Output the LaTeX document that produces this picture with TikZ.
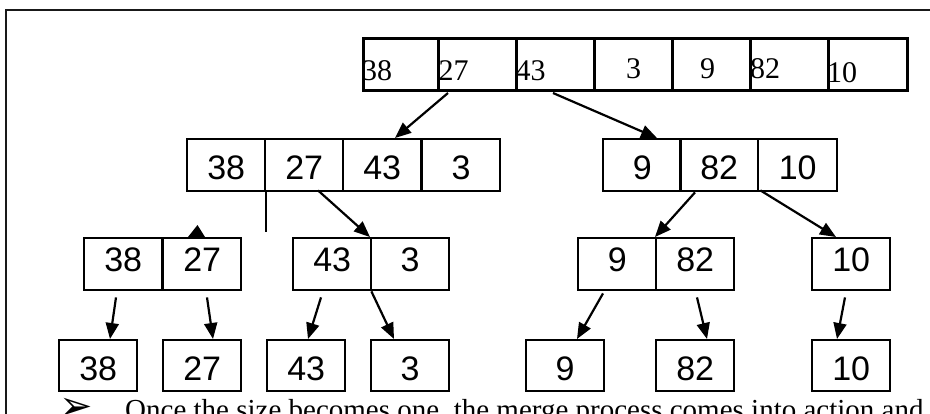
\documentclass[tikz,border=0pt]{standalone}
\usepackage{fontspec}
\setmainfont{Liberation Serif}
\newfontfamily\arialfont{Liberation Sans}
\newfontfamily\dejavufont{DejaVu Sans}
\usetikzlibrary{arrows.meta,calc}
\begin{document}
\begin{tikzpicture}[x=1pt,y=-1pt,
 frame/.style={line width=2.8pt, draw=black!90},
 topbox/.style={draw, line width=3pt, anchor=north west, inner sep=0pt, minimum height=52pt, minimum width=78pt},
 toptext/.style={anchor=base west, inner sep=0pt, font=\fontsize{30}{34}\selectfont},
 numcell/.style={draw, line width=2.4pt, anchor=north west, inner sep=0pt, minimum width=78pt, font=\arialfont\fontsize{34}{40}\selectfont},
 lvlone/.style={numcell, text height=40pt, text depth=12pt},
 lvltwo/.style={numcell, text height=33pt, text depth=19pt},
 lvlthree/.style={numcell, text height=40pt, text depth=11pt},
 conn/.style={line width=2.2pt, -{Triangle[length=16pt,width=13pt]}},
]
\useasboundingbox (0,0) rectangle (930,413);
\clip (0,0) rectangle (930,413);
\draw[frame] (6,420) -- (6,10) -- (935,10);

% top row
\node[topbox, minimum width=75pt] (t1) at (362,37) {};
\node[topbox] (t2) at (437,37) {};
\node[topbox] (t3) at (515,37) {};
\node[topbox] (t4) at (593,37) {};
\node[topbox] (t5) at (671,37) {};
\node[topbox] (t6) at (749,37) {};
\node[topbox, minimum width=79pt] (t7) at (827,37) {};
\node[toptext] (n1) at ($(t1.south west)+(0,-12)$) {38};
\node[toptext] (n2) at ($(t2.south west)+(1.5,-12)$) {27};
\node[toptext] (n3) at ($(t3.south west)+(0.5,-12)$) {43};
\node[toptext, anchor=base] (n4) at ($(t4.south)+(0,-14)$) {3};
\node[toptext, anchor=base] (n5) at ($(t5.south)+(-4,-14)$) {9};
\node[toptext] (n6) at ($(t6.south west)+(1,-14)$) {82};
\node[toptext] (n7) at ($(t7.south west)+(0,-10)$) {10};

% level 1
\node[lvlone] (a1) at (186,138) {38};
\node[lvlone] (a2) at (264,138) {27};
\node[lvlone] (a3) at (342,138) {43};
\node[lvlone] (a4) at (421,138) {3};
\node[lvlone] (b1) at (602,138) {9};
\node[lvlone] (b2) at (679,138) {82};
\node[lvlone, minimum width=79pt] (b3) at (757,138) {10};

% level 2
\node[lvltwo] (c1) at (83,237) {38};
\node[lvltwo] (c2) at (162,237) {27};
\node[lvltwo] (c3) at (292,237) {43};
\node[lvltwo] (c4) at (370,237) {3};
\node[lvltwo] (d1) at (577,237) {9};
\node[lvltwo] (d2) at (655,237) {82};
\node[lvltwo] (e1) at (811,237) {10};

% level 3
\node[lvlthree] (f1) at (58,339) {38};
\node[lvlthree] (f2) at (162,339) {27};
\node[lvlthree] (f3) at (266,339) {43};
\node[lvlthree] (f4) at (370,339) {3};
\node[lvlthree] (g1) at (525,339) {9};
\node[lvlthree] (g2) at (655,339) {82};
\node[lvlthree] (h1) at (811,339) {10};

% connectors
\draw[conn] ($(t2.south west)+(11,1)$) -- ($(a3.north west)+(53,0)$);
\draw[conn] ($(t3.south west)+(38,1)$) -- ($(b1.north west)+(55,0)$);
\coordinate (stub) at ($(a2.south west)+(2,40)$);
\draw[line width=2.2pt] ($(a2.south west)+(2,0)$) -- (stub);
\fill ($(c2.north west)+(26,0)$) -- ($(c2.north west)+(35.5,-12)$) -- ($(c2.north west)+(43,0)$) -- cycle;
\draw[conn] ($(a2.south west)+(54,-2)$) -- (c4.north west);
\draw[conn] ($(b2.south west)+(16,0)$) -- (d2.north west);
\draw[conn] ($(b2.south east)+(1,-2)$) -- ($(e1.north west)+(25,0)$);
\draw[conn] ($(c1.south west)+(33,6)$) -- ($(f1.north west)+(52,0)$);
\draw[conn] ($(c2.south west)+(45,6)$) -- ($(f2.north west)+(51,0)$);
\draw[conn] ($(c3.south west)+(29,6)$) -- ($(f3.north west)+(42,0)$);
\draw[conn] ($(c3.south east)+(-1,0)$) -- ($(f4.north west)+(24,0)$);
\draw[conn] ($(d1.south west)+(26,2)$) -- ($(g1.north west)+(52,0)$);
\draw[conn] ($(d2.south west)+(42,6)$) -- ($(g2.north west)+(52,0)$);
\draw[conn] ($(e1.south west)+(34,6)$) -- ($(h1.north west)+(26,0)$);

% bottom text
\node[anchor=base west, inner sep=0pt, font=\dejavufont\fontsize{40}{44}\selectfont] (bul) at (59,419) {➢};
\node[anchor=base west, inner sep=0pt, font=\fontsize{29}{34}\selectfont] (txt) at (125,419) {Once the size becomes one, the merge process comes into action and};
\end{tikzpicture}
\end{document}
